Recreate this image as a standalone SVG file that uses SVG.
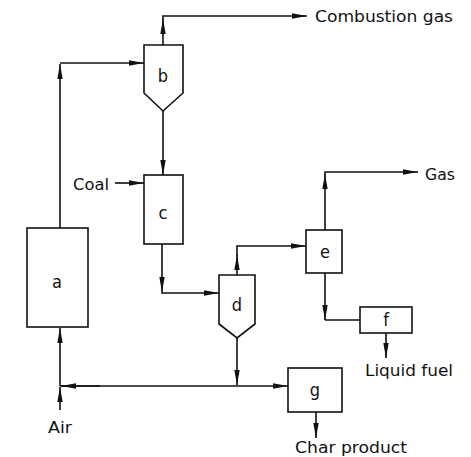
<svg xmlns="http://www.w3.org/2000/svg" width="471" height="457" viewBox="0 0 471 457">
<style>
.n{fill:#fff;stroke:#111;stroke-width:1.6}
.c{fill:none;stroke:#111;stroke-width:1.6}
.a{marker-end:url(#ah)}
.t{font-family:"DejaVu Sans Condensed","Liberation Sans Narrow","DejaVu Sans",sans-serif;font-size:16px;fill:#111}
.l{font-family:"DejaVu Sans Condensed","Liberation Sans Narrow","DejaVu Sans",sans-serif;font-size:18px;fill:#111;text-anchor:middle}
</style>
<defs>
<marker id="ah" markerUnits="userSpaceOnUse" markerWidth="16" markerHeight="8" refX="15" refY="3.5" orient="auto">
<path d="M0,0.8 L15,3.5 L0,6.2 z" fill="#111"/>
</marker>
</defs>
<g id="connectors">
<path class="c a" d="M60,228 V64"/>
<path class="c a" d="M60,63 H144"/>
<path class="c a" d="M163,45 V19"/>
<path class="c a" d="M163,20 V16 H307"/>
<path class="c a" d="M163,111 V175"/>
<path class="c a" d="M115,183 H144"/>
<path class="c a" d="M162,244 V292"/>
<path class="c a" d="M162,292 V293 H219"/>
<path class="c a" d="M237,275 V255"/>
<path class="c a" d="M237,256 V246 H306"/>
<path class="c a" d="M325,230 V174"/>
<path class="c a" d="M325,175 V172 H418"/>
<path class="c a" d="M325,273 V320"/>
<path class="c" d="M325,320 H360"/>
<path class="c a" d="M386,333 V358"/>
<path class="c a" d="M237,338 V385"/>
<path class="c a" d="M60,386 H288"/>
<path class="c a" d="M100,386 H61"/>
<path class="c a" d="M60,410 V387"/>
<path class="c a" d="M60,386 V328"/>
<path class="c a" d="M316,412 V438"/>
</g>
<g id="a"><rect class="n" x="27" y="228" width="61" height="99"/><text class="l" x="57" y="288">a</text></g>
<g id="b"><path class="n" d="M144,45 H183 V93 L163,111 L144,93 Z"/><text class="l" x="163" y="82">b</text></g>
<g id="c"><rect class="n" x="144" y="175" width="39" height="69"/><text class="l" x="163" y="219">c</text></g>
<g id="d"><path class="n" d="M219,275 H255 V324 L237,338 L219,324 Z"/><text class="l" x="237" y="311">d</text></g>
<g id="e"><rect class="n" x="306" y="230" width="36" height="43"/><text class="l" x="325" y="258">e</text></g>
<g id="f"><rect class="n" x="360" y="307" width="52" height="26"/><text class="l" x="386" y="326">f</text></g>
<g id="g"><rect class="n" x="288" y="368" width="54" height="44"/><text class="l" x="315" y="396">g</text></g>
<g id="labels">
<text class="t" x="315" y="22" textLength="138" lengthAdjust="spacingAndGlyphs">Combustion gas</text>
<text class="t" x="425" y="180" textLength="30" lengthAdjust="spacingAndGlyphs">Gas</text>
<text class="t" x="73" y="190" textLength="36" lengthAdjust="spacingAndGlyphs">Coal</text>
<text class="t" x="365" y="376" textLength="88" lengthAdjust="spacingAndGlyphs">Liquid fuel</text>
<text class="t" x="48" y="433" textLength="24" lengthAdjust="spacingAndGlyphs">Air</text>
<text class="t" x="295" y="453" textLength="112" lengthAdjust="spacingAndGlyphs">Char product</text>
</g>
</svg>
